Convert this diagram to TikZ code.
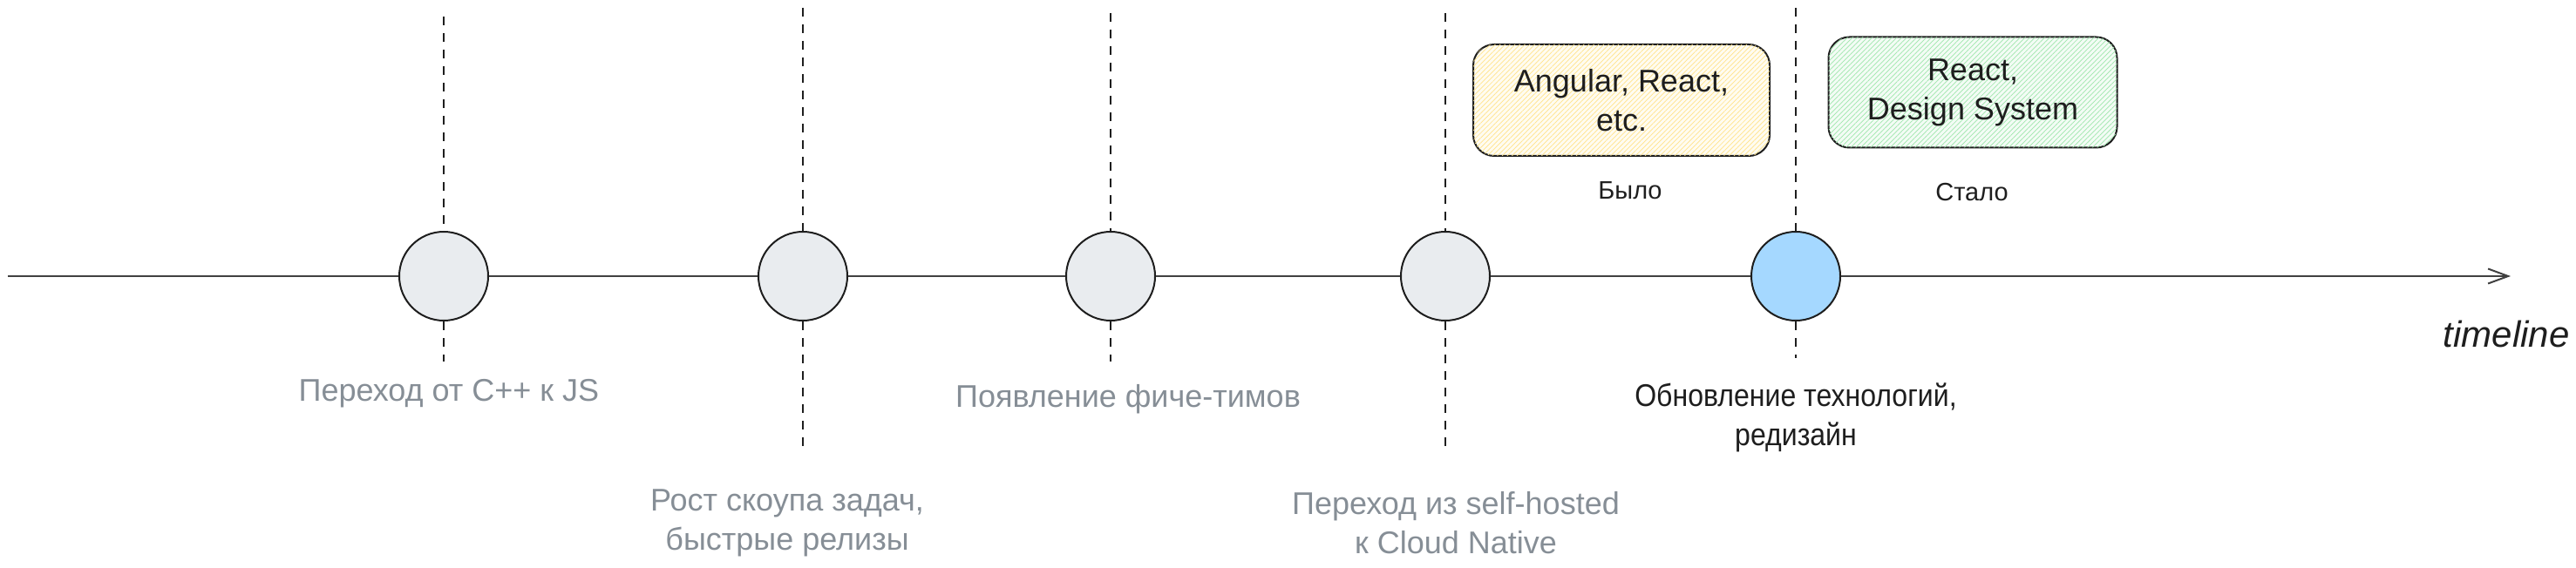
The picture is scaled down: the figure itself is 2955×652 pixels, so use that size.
\documentclass[tikz,border=0pt]{standalone}
\usepackage{fontspec}
\setmainfont{Liberation Sans}
\newfontfamily\narrowsans{Liberation Sans}[FakeStretch=0.89]
\usetikzlibrary{arrows.meta,patterns.meta}
\definecolor{graytxt}{HTML}{868E96}
\definecolor{dotgray}{HTML}{E9ECEF}
\definecolor{dotblue}{HTML}{A5D8FF}
\definecolor{hatchyellow}{HTML}{FFE38A}
\definecolor{hatchgreen}{HTML}{9EE6AC}
\definecolor{inkdark}{HTML}{1E1E1E}
\tikzset{
  dot/.style={circle, draw=inkdark, line width=1pt, minimum size=51pt, inner sep=0pt, fill=dotgray},
  guide/.style={draw=inkdark, line width=0.7pt, dash pattern=on 5pt off 4.5pt},
  axis/.style={draw=black!75, line width=1.3pt},
  evlabel/.style={align=center, text=graytxt, font=\fontsize{18}{22.5}\selectfont},
  hotlabel/.style={align=center, text=inkdark, font=\narrowsans\fontsize{18}{22.5}\selectfont},
  techbox/.style={draw=inkdark, line width=1pt, rounded corners=12pt, align=center, inner sep=0pt,
    font=\fontsize{18}{22.5}\selectfont, text=inkdark},
  smalllabel/.style={text=inkdark, font=\fontsize{14.5}{17}\selectfont},
}
\begin{document}
\begin{tikzpicture}[x=0.5pt, y=-0.5pt]
\useasboundingbox (0,0) rectangle (2955,652);
% timeline ends
\coordinate (tstart) at (9,317);
\coordinate (tend) at (2880,317);
% event dots
\node[dot] (c1) at (509,317) {};
\node[dot] (c2) at (921,317) {};
\node[dot] (c3) at (1274,317) {};
\node[dot] (c4) at (1658,317) {};
\node[dot, fill=dotblue] (c5) at (2060,317) {};
% guide ends
\coordinate (t1) at (509,19);  \coordinate (b1) at (509,415);
\coordinate (t2) at (921,9);   \coordinate (b2) at (921,513);
\coordinate (t3) at (1274,15); \coordinate (b3) at (1274,415);
\coordinate (t4) at (1658,15); \coordinate (b4) at (1658,518);
\coordinate (t5) at (2060,9);  \coordinate (b5) at (2060,411);
\foreach \i in {1,...,5} {
  \draw[guide] (t\i) -- (c\i.north);
  \draw[guide] (c\i.south) -- (b\i);
}
% axis segments
\draw[axis] (tstart) -- (c1.west);
\draw[axis] (c1.east) -- (c2.west);
\draw[axis] (c2.east) -- (c3.west);
\draw[axis] (c3.east) -- (c4.west);
\draw[axis] (c4.east) -- (c5.west);
\draw[axis, -{Straight Barb[length=11.5pt, width=8.5pt, line width=1pt]}] (c5.east) -- (tend);
\node[text=inkdark, font=\fontsize{21}{24}\selectfont\itshape] (tl) at (2875,383) {timeline};
% labels
\node[evlabel] (l1) at (515,452) {Переход от С++ к JS};
\node[evlabel] (l2) at (903,600) {Рост скоупа задач,\\быстрые релизы};
\node[evlabel] (l3) at (1294,458) {Появление фиче-тимов};
\node[evlabel] (l4) at (1670,600) {Переход из self-hosted\\к Cloud Native};
\node[hotlabel] (l5) at (2060,479) {Обновление технологий,\\редизайн};
% tech boxes
\node[techbox, minimum width=170pt, minimum height=64pt,
  fill=hatchyellow!12, postaction={pattern={Lines[angle=45,distance=2pt,line width=0.35pt]}, pattern color=hatchyellow}] (old) at (1860,115) {Angular, React,\\etc.};
\node[techbox, minimum width=165.5pt, minimum height=63.5pt,
  fill=hatchgreen!12, postaction={pattern={Lines[angle=45,distance=2pt,line width=0.35pt]}, pattern color=hatchgreen}] (new) at (2263,106) {React,\\Design System};
\node[smalllabel] (was) at (1870,219) {Было};
\node[smalllabel] (now) at (2262,221) {Стало};
\end{tikzpicture}
\end{document}
